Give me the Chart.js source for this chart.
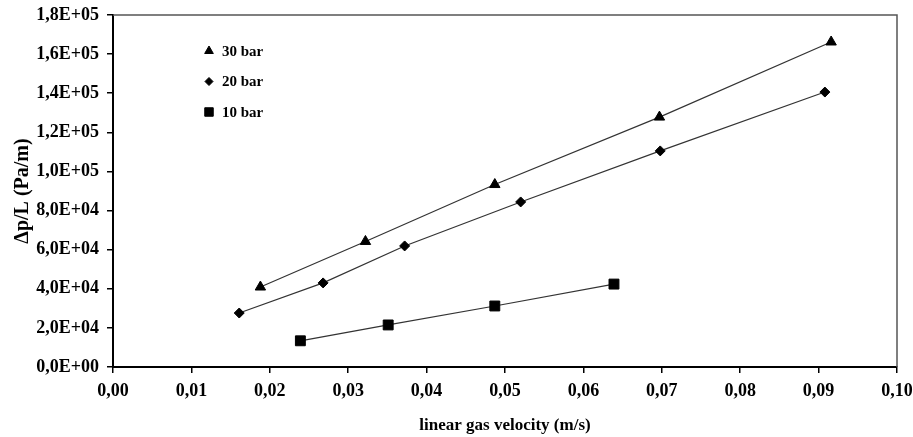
<!DOCTYPE html>
<html>
<head>
<meta charset="utf-8">
<script src="https://cdn.jsdelivr.net/npm/chart.js@4/dist/chart.umd.min.js"></script>
<style>
html,body{margin:0;padding:0;background:#fff;}
#wrap{width:913px;height:437px;position:relative;}
</style>
</head>
<body>
<div id="wrap"><canvas id="c" width="913" height="437"></canvas></div>
<script>
// ---- data ----
const seriesLabels = ["30 bar", "20 bar", "10 bar"];
const velocity30 = [0.0188, 0.0322, 0.0487, 0.0697, 0.0916];
const pressure30 = [40900, 64200, 93300, 127800, 166200];
const velocity20 = [0.0161, 0.0268, 0.0372, 0.0520, 0.0698, 0.0908];
const pressure20 = [27600, 43000, 61900, 84400, 110500, 140600];
const velocity10 = [0.0239, 0.0351, 0.0487, 0.0639];
const pressure10 = [13400, 21500, 31200, 42400];
const xTickMin = 0, xTickMax = 0.10, xTickStep = 0.01;
const yTickMin = 0, yTickMax = 180000, yTickStep = 20000;
const xTitle = "linear gas velocity (m/s)";
const yTitle = "\u0394p/L (Pa/m)";

const pts = (xs, ys) => xs.map((x, i) => ({x: x, y: ys[i]}));
const FONT = "'Liberation Serif', 'Times New Roman', serif";

function sci(v) {
  if (v === 0) return "0,0E+00";
  const e = Math.floor(Math.log10(Math.abs(v)) + 1e-9);
  const m = v / Math.pow(10, e);
  return m.toFixed(1).replace('.', ',') + "E+" + String(e).padStart(2, '0');
}

const styles = ['triangle', 'rectRot', 'rect'];
const radii = [6, 5, 7];

const borderPlugin = {
  id: 'frame',
  afterDatasetsDraw(chart) {
    const {ctx, chartArea: a} = chart;
    ctx.save();
    ctx.strokeStyle = '#555';
    ctx.lineWidth = 1.5;
    ctx.beginPath();
    ctx.moveTo(a.left, a.top);
    ctx.lineTo(a.right, a.top);
    ctx.lineTo(a.right, a.bottom);
    ctx.stroke();
    ctx.restore();
  }
};

const legendPlugin = {
  id: 'innerLegend',
  afterDatasetsDraw(chart) {
    const {ctx} = chart;
    const xs = chart.scales.x, ys = chart.scales.y;
    ctx.save();
    chart.data.datasets.forEach((ds, i) => {
      const cx = xs.left + 96;
      const cy = ys.top + 36 + i * 30.5;
      ctx.fillStyle = '#000';
      ctx.strokeStyle = '#000';
      ctx.lineWidth = 1;
      Chart.helpers.drawPoint(ctx, {pointStyle: ds.pointStyle, radius: ds.pointRadius - 1, borderWidth: 1}, cx, cy);
      ctx.fillStyle = '#000';
      ctx.font = "bold 15px " + FONT;
      ctx.textBaseline = 'middle';
      ctx.textAlign = 'left';
      ctx.fillText(ds.label, cx + 13, cy + 1);
    });
    ctx.restore();
  }
};

const datasets = [
  [velocity30, pressure30],
  [velocity20, pressure20],
  [velocity10, pressure10]
].map((d, i) => ({
  label: seriesLabels[i],
  data: pts(d[0], d[1]),
  showLine: true,
  borderColor: '#333',
  borderWidth: 1.2,
  backgroundColor: '#000',
  pointBackgroundColor: '#000',
  pointBorderColor: '#000',
  pointBorderWidth: 1,
  pointStyle: styles[i],
  pointRadius: radii[i],
  tension: 0,
  fill: false
}));

new Chart(document.getElementById('c'), {
  type: 'scatter',
  data: {datasets: datasets},
  options: {
    responsive: false,
    animation: false,
    devicePixelRatio: 1,
    layout: {padding: {top: 15, right: 16, bottom: 0, left: 0}},
    plugins: {legend: {display: false}, tooltip: {enabled: false}},
    scales: {
      x: {
        type: 'linear',
        min: xTickMin, max: xTickMax,
        afterFit(s) { s.height = 70; s.paddingLeft = 0; s.paddingRight = 0; },
        ticks: {
          stepSize: xTickStep,
          color: '#000',
          padding: 8,
          maxRotation: 0,
          font: {family: FONT, size: 18, weight: 'bold'},
          callback: v => Number(v).toFixed(2).replace('.', ',')
        },
        grid: {drawOnChartArea: false, drawTicks: true, tickLength: 6, color: '#000', lineWidth: 1.5},
        border: {display: true, color: '#000', width: 2},
        title: {display: true, text: xTitle, color: '#000', padding: {top: 4, bottom: 1},
                font: {family: FONT, size: 17, weight: 'bold'}}
      },
      y: {
        type: 'linear',
        min: yTickMin, max: yTickMax,
        afterFit(s) { s.width = 113; s.paddingTop = 0; s.paddingBottom = 0; },
        ticks: {
          stepSize: yTickStep,
          color: '#000',
          padding: 8,
          font: {family: FONT, size: 18, weight: 'bold'},
          callback: v => sci(v)
        },
        grid: {drawOnChartArea: false, drawTicks: true, tickLength: 6, color: '#000', lineWidth: 1.5},
        border: {display: true, color: '#000', width: 2},
        title: {display: true, text: yTitle, color: '#000', padding: {top: 11, bottom: 0},
                font: {family: FONT, size: 20, weight: 'bold'}}
      }
    }
  },
  plugins: [borderPlugin, legendPlugin]
});
</script>
</body>
</html>
